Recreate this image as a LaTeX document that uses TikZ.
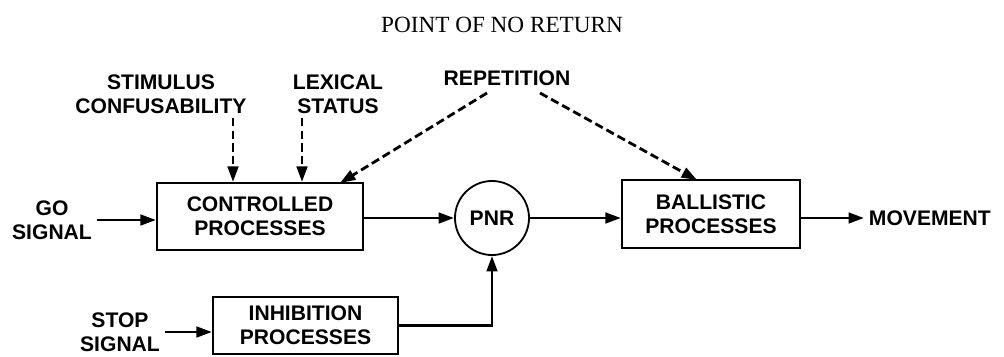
\documentclass[tikz,border=0pt]{standalone}
\usepackage{fontspec}
\setmainfont{Liberation Serif}
\setsansfont{Liberation Sans}
\usepackage{tikz}
\usetikzlibrary{arrows.meta, positioning}
\tikzstyle{process} = [rectangle, text centered, draw=black, line width=1.5pt, font=\sffamily\bfseries\fontsize{15}{17}\selectfont]
\tikzstyle{label} = [text centered, font=\sffamily\bfseries\fontsize{15}{17}\selectfont]
\tikzstyle{pnrcircle} = [circle, minimum size=1.85cm, draw=black, line width=1.3pt, font=\sffamily\bfseries\fontsize{15}{17}\selectfont]
\tikzstyle{arrow} = [line width=2pt, -{Triangle[length=11pt,width=7.5pt]}]
\tikzstyle{dasharrow} = [arrow, dash pattern=on 6pt off 3pt]
\tikzset{every node/.style={align=center}}

\begin{document}
\begin{tikzpicture}[x=0.025cm, y=-0.025cm]
    \useasboundingbox (0,0) rectangle (1004,356);
    \node (title) at (502,25) {\fontsize{16.5}{18}\selectfont POINT OF NO RETURN};

    \node (stim) [label] at (161,94) {STIMULUS\\CONFUSABILITY};
    \node (lex) [label] at (338,94) {LEXICAL\\STATUS};
    \node (rep) [label] at (507,78) {REPETITION};
    \node (go) [label] at (52,220) {GO\\SIGNAL};
    \node (ctrl) [process, minimum width=5.15cm, minimum height=1.675cm] at (260,216.5) {CONTROLLED\\PROCESSES};
    \node (pnr) [pnrcircle] at (492,218) {PNR};
    \node (ball) [process, minimum width=4.45cm, minimum height=1.7cm] at (711,214) {BALLISTIC\\PROCESSES};
    \node (move) [label, anchor=west] at (864,218) {MOVEMENT};
    \node (stop) [label] at (120,332) {STOP\\SIGNAL};
    \node (inhib) [process, minimum width=4.625cm, minimum height=1.425cm] at (305.5,325.5) {INHIBITION\\PROCESSES};

    \coordinate (stimtail) at (233,118);
    \coordinate (lextail) at (302,118);
    \coordinate (repleft) at (487,93);
    \coordinate (repright) at (540,93);
    \coordinate (ctrlcorner) at (340,183);
    \coordinate (balltop) at (697,180);

    \draw [dasharrow] (stimtail) -- (stimtail |- ctrl.north);
    \draw [dasharrow] (lextail) -- (lextail |- ctrl.north);
    \draw [dasharrow] (repleft) -- (ctrlcorner);
    \draw [dasharrow] (repright) -- (balltop);
    \draw [arrow] (go.east) -- (go.east -| ctrl.west);
    \draw [arrow] (ctrl.east |- pnr) -- (pnr.west);
    \draw [arrow] (pnr.east) -- (pnr -| ball.west);
    \draw [arrow] (ball.east |- move) -- (move.west);
    \draw [arrow] (stop.east) -- (stop.east -| inhib.west);
    \draw [arrow] (inhib.east) -| (pnr.south);
\end{tikzpicture}
\end{document}
